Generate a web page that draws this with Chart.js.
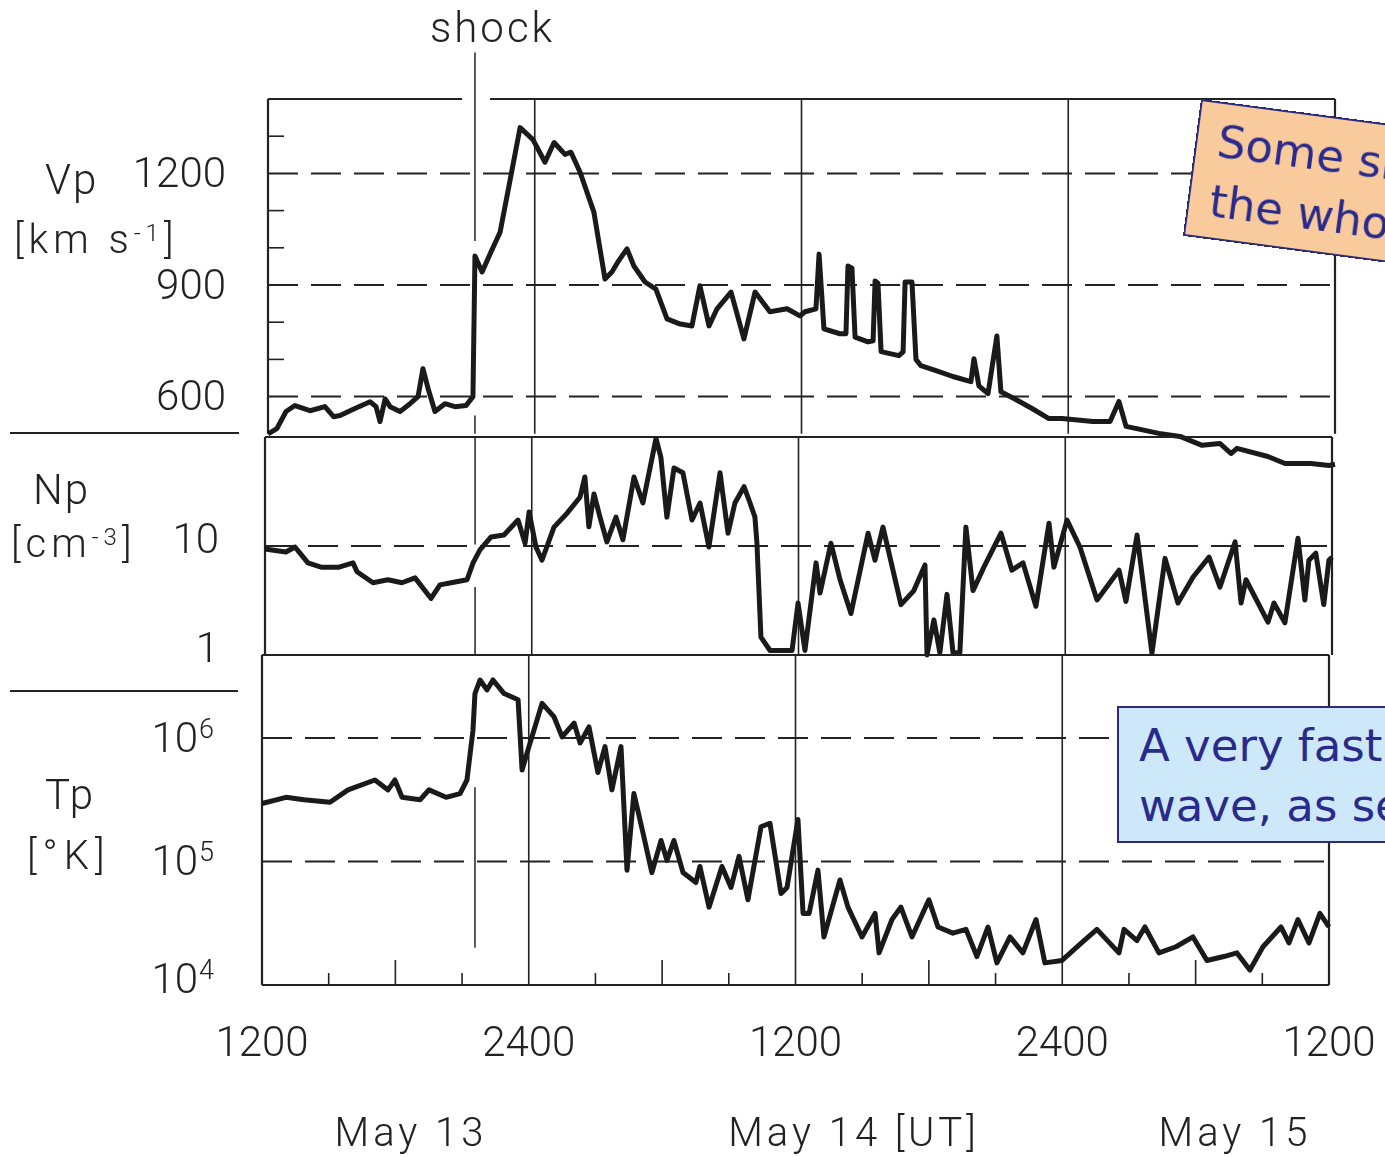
<!DOCTYPE html>
<html lang="en">
<head>
<meta charset="UTF-8">
<title>Solar wind shock, May 13-15</title>
<script src="https://cdn.jsdelivr.net/npm/chart.js@4"></script>
<style>
  body { margin: 0; background: #fff; }
  .page { position: relative; width: 1385px; height: 1157px; overflow: hidden; background: #fff;
          font-family: Roboto, "DejaVu Sans", sans-serif; font-weight: 300; color: #222; }
  .page canvas { position: absolute; left: 0; }
  .txt { position: absolute; white-space: nowrap; line-height: 1; }
  .txt sup { font-size: 0.6em; vertical-align: 0; position: relative; top: -0.5em; }
  .rule { position: absolute; height: 2px; background: #222; }
  .note { position: absolute; box-sizing: border-box; border: 2px solid #2b2b7d; color: #2a2a8c;
          font-family: "Comic Sans MS", "DejaVu Sans", sans-serif; font-weight: 400; font-size: 45px;
          line-height: 60px; padding: 8px 0 0 20px; white-space: nowrap; }
</style>
</head>
<body>
<div class="page">
  <canvas id="vpChart" width="1385" height="480" style="top:0"></canvas>
  <canvas id="npChart" width="1385" height="260" style="top:420px"></canvas>
  <canvas id="tpChart" width="1385" height="517" style="top:640px"></canvas>

  <div class="txt" style="left:430px;top:7px;font-size:42px;letter-spacing:3px">shock</div>
  <div class="txt" style="left:45px;top:159px;font-size:42px;letter-spacing:2px">Vp</div>
  <div class="txt" style="left:14px;top:220px;font-size:40px;letter-spacing:5px">[km s<sup>-1</sup>]</div>
  <div class="rule" style="left:10px;top:432px;width:229px"></div>
  <div class="txt" style="left:33px;top:469px;font-size:42px;letter-spacing:2px">Np</div>
  <div class="txt" style="left:11px;top:524px;font-size:40px;letter-spacing:5px">[cm<sup>-3</sup>]</div>
  <div class="rule" style="left:10px;top:690px;width:228px"></div>
  <div class="txt" style="left:45px;top:774px;font-size:42px;letter-spacing:2px">Tp</div>
  <div class="txt" style="left:27px;top:836px;font-size:40px;letter-spacing:6px">[°K]</div>

  <div class="txt" style="left:211px;width:400px;text-align:center;top:1113px;font-size:40px;letter-spacing:4px">May 13</div>
  <div class="txt" style="left:654px;width:400px;text-align:center;top:1113px;font-size:40px;letter-spacing:4px">May 14 [UT]</div>
  <div class="txt" style="left:1035px;width:400px;text-align:center;top:1113px;font-size:40px;letter-spacing:4px">May 15</div>

  <div class="note" style="left:1201px;top:99px;width:420px;height:138px;background:#f9cb9c;transform:rotate(7.5deg);transform-origin:0 0">Some shocks<br>the whole</div>
  <div class="note" style="left:1117px;top:706px;width:420px;height:137px;background:#cde8f8">A very fast shock<br>wave, as seen</div>
</div>

<script>
// hours after 12:00 UT on May 13
const vpHours = [0,0.40,0.81,1.21,1.89,2.56,2.95,3.24,3.91,4.59,4.86,5.04,5.27,5.49,5.94,6.39,6.75,6.97,7.20,7.51,7.96,8.41,8.91,9.22,
  9.31,9.63,10.03,10.44,10.84,11.34,11.92,12.46,12.87,13.36,13.63,14.04,14.66,15.16,15.47,15.74,16.15,16.46,16.96,17.45,
  17.95,18.49,19.07,19.43,19.84,20.20,20.83,21.41,21.91,22.58,23.35,23.93,24.16,24.65,24.79,25.01,25.73,26.00,26.09,26.27,
  26.41,26.99,27.22,27.31,27.44,27.58,28.38,28.57,28.66,28.97,29.15,29.37,30.05,30.81,31.62,31.76,31.98,32.39,32.79,32.97,
  33.56,34.37,35.13,35.72,37.11,37.88,38.28,38.60,40.08,41.03,42.02,42.82,43.32,43.59,44.98,45.75,46.92,47.73,48.00];
const vpSpeed = [500,514,560,576,562,573,546,549,568,586,573,533,594,573,560,581,600,675,622,560,581,573,576,600,
  978,935,989,1042,1166,1323,1291,1230,1283,1251,1257,1203,1096,916,935,962,997,951,908,889,
  809,796,790,898,790,836,881,755,881,828,836,817,828,836,983,782,769,769,951,945,
  760,747,750,911,905,721,710,720,908,908,700,683,670,654,640,702,629,608,763,613,
  595,568,541,541,533,533,587,520,501,493,469,474,447,461,439,420,420,415,418];

const npHours = [0,0.94,1.35,1.93,2.52,3.33,3.96,4.14,4.86,5.53,6.16,6.75,7.47,7.87,8.37,9.09,9.36,9.67,10.17,10.75,
  11.38,11.70,11.88,12.19,12.46,13.00,13.59,14.17,14.39,14.57,14.80,15.07,15.38,15.79,16.10,16.60,17.00,17.59,17.81,18.08,
  18.40,18.80,19.21,19.57,19.97,20.47,20.83,21.14,21.55,21.82,22.04,22.13,22.31,22.72,23.71,23.98,24.29,24.79,24.97,25.46,
  25.87,26.36,27.13,27.44,27.80,28.61,29.19,29.69,29.78,30.09,30.36,30.68,30.95,31.26,31.53,31.85,32.34,33.11,33.60,34.10,
  34.68,35.27,35.49,36.08,36.66,37.43,38.42,38.73,39.23,39.90,40.49,41.07,41.75,42.47,42.96,43.64,43.91,44.13,45.12,45.39,
  45.88,46.47,46.78,46.96,47.27,47.63,47.86,48.00];
const npDensity = [9.4,8.8,9.8,7.0,6.4,6.4,7.0,5.8,4.6,4.9,4.6,5.1,3.3,4.4,4.6,4.9,7.0,9.2,12.1,12.6,
  17.3,10.6,20.5,9.8,7.4,14.9,20,28,43,15,30,18.4,10.9,18.4,11.4,43,24.8,97,65,18.4,
  52,47,17.3,24.8,9.8,47,13.1,24.8,35,24.8,18.4,10.6,1.46,1.1,1.1,3.0,1.1,7,3.7,10.6,
  4.9,2.4,13.1,7.4,14.9,2.9,3.9,6.7,1.0,2.1,1.05,3.6,1.05,1.05,14.9,3.9,6.4,13.1,6.0,7.0,
  2.8,16.2,6.4,17.3,9.8,3.2,6.0,3.1,12.6,1.04,7.7,3.0,5.2,7.9,4.2,10.9,3.0,4.9,2.0,3.0,
  1.97,11.8,3.2,7.4,8.6,2.9,7.4,7.9];

const tpHours = [0,1.08,1.89,3.06,3.87,5.08,5.67,5.98,6.30,7.11,7.51,8.28,8.91,9.22,9.49,9.58,9.81,10.12,10.39,10.89,
  11.52,11.70,12.01,12.60,13.14,13.50,14.04,14.31,14.71,15.11,15.43,15.74,16.15,16.42,16.73,17.14,17.54,17.95,18.22,18.53,
  18.94,19.52,19.70,20.11,20.69,21.10,21.46,21.86,22.45,22.85,23.35,23.62,24.11,24.34,24.61,25.01,25.28,26.00,26.36,26.99,
  27.58,27.76,28.34,28.74,29.24,30.00,30.41,31.08,31.67,32.16,32.66,33.06,33.65,34.23,34.82,35.22,35.99,36.98,37.56,38.55,
  38.78,39.36,39.72,40.35,41.12,41.88,42.51,43.27,43.86,44.44,45.03,45.84,46.20,46.60,47.10,47.59,48.00];
const tpTemp = [2.95e5,3.31e5,3.16e5,3.02e5,3.80e5,4.57e5,3.80e5,4.57e5,3.31e5,3.16e5,3.80e5,3.31e5,3.55e5,4.57e5,1.15e6,2.29e6,2.95e6,2.45e6,2.95e6,2.29e6,
  2.04e6,5.50e5,8.51e5,1.91e6,1.48e6,1.02e6,1.32e6,9.12e5,1.23e6,5.25e5,8.51e5,3.80e5,8.51e5,8.51e4,3.55e5,1.70e5,8.13e4,1.48e5,1.02e5,1.48e5,
  8.13e4,6.76e4,9.12e4,4.27e4,9.12e4,6.17e4,1.10e5,4.90e4,1.91e5,2.04e5,5.50e4,6.17e4,2.19e5,3.80e4,3.80e4,8.51e4,2.45e4,7.08e4,4.27e4,2.45e4,
  3.80e4,1.82e4,3.39e4,4.27e4,2.45e4,4.90e4,2.95e4,2.63e4,2.82e4,1.70e4,2.95e4,1.51e4,2.45e4,1.82e4,3.39e4,1.51e4,1.58e4,2.29e4,2.82e4,1.82e4,
  2.82e4,2.29e4,2.95e4,1.82e4,2.04e4,2.45e4,1.58e4,1.70e4,1.82e4,1.32e4,2.04e4,2.95e4,2.19e4,3.39e4,2.19e4,3.80e4,2.95e4];

const clockHours = [0, 12, 24, 36, 48];
const clockLabels = ['1200', '2400', '1200', '2400', '1200'];
const vpLabels = [600, 900, 1200];
const npLabels = [1, 10];
const tpPowers = [4, 5, 6];

// frame, dashed levels, time grid, shock marker and labels for each panel
const panelSpecs = {
  vpChart: { top: 1400, bottom: 500, levels: [600, 900, 1200], topSpans: [[0, 8.73], [9.99, 48]],
             leftTicks: [700, 800, 1000, 1100, 1300], shockAt: 9.31, shock: [[1525, 1018], [549, 500]],
             labels: vpLabels.map(v => ({ v, text: String(v) })), labelGap: 42, labelShift: 3 },
  npChart: { top: 100, bottom: 1, levels: [10], topSpans: [[0, 48]],
             leftTicks: [], shockAt: 9.45, shock: [[100, 10.3], [4.2, 1]],
             labels: npLabels.map(v => ({ v, text: String(v) })), labelGap: 46, labelShift: -4 },
  tpChart: { top: 4.7e6, bottom: 1e4, levels: [1e5, 1e6], topSpans: [[0, 48]], bottomLine: true,
             leftTicks: [], shockAt: 9.58, shock: [[4.0e5, 2.0e4]], hourTicks: true,
             labels: tpPowers.map(p => ({ v: Math.pow(10, p), text: '10', exp: String(p), dy: p === 4 ? -6 : 0 })),
             labelGap: 48, labelShift: 0, clock: true }
};

function seg(ctx, x1, y1, x2, y2) {
  ctx.beginPath(); ctx.moveTo(x1, y1); ctx.lineTo(x2, y2); ctx.stroke();
}

const panelFrame = {
  id: 'panelFrame',
  beforeDatasetsDraw(chart) {
    const spec = panelSpecs[chart.canvas.id];
    const { ctx, scales: { x, y } } = chart;
    const left = x.getPixelForValue(0), right = x.getPixelForValue(48);
    const top = y.getPixelForValue(spec.top), bottom = y.getPixelForValue(spec.bottom);
    ctx.save();
    ctx.strokeStyle = '#222';

    ctx.lineWidth = 2;
    ctx.setLineDash([30, 13]);
    spec.levels.forEach(v => { const py = y.getPixelForValue(v); seg(ctx, left, py, right, py); });
    ctx.setLineDash([]);

    ctx.lineWidth = 1.6;
    [12, 24, 36].forEach(t => { const px = x.getPixelForValue(t); seg(ctx, px, top, px, bottom); });

    ctx.lineWidth = 2.2;
    seg(ctx, left, top, left, bottom);
    seg(ctx, right, top, right, bottom);
    spec.topSpans.forEach(([a, b]) => seg(ctx, x.getPixelForValue(a), top, x.getPixelForValue(b), top));
    if (spec.bottomLine) seg(ctx, left, bottom, right, bottom);

    ctx.lineWidth = 1.6;
    spec.leftTicks.forEach(v => { const py = y.getPixelForValue(v); seg(ctx, left, py, left + 16, py); });
    if (spec.hourTicks) {
      for (let t = 3; t < 48; t += 3) {
        if (t % 12 === 0) continue;
        const px = x.getPixelForValue(t);
        seg(ctx, px, bottom, px, bottom - (t % 6 === 0 ? 25 : 12));
      }
    }

    ctx.lineWidth = 1.5;
    const sx = x.getPixelForValue(spec.shockAt);
    spec.shock.forEach(([a, b]) => seg(ctx, sx, y.getPixelForValue(a), sx, y.getPixelForValue(b)));

    // axis labels
    ctx.fillStyle = '#222';
    ctx.textBaseline = 'middle';
    ctx.textAlign = 'right';
    const lx = left - spec.labelGap;
    spec.labels.forEach(l => {
      const py = y.getPixelForValue(l.v) + spec.labelShift + (l.dy || 0);
      if (l.exp) {
        ctx.font = '300 27px Roboto';
        const ew = ctx.measureText(l.exp).width;
        ctx.fillText(l.exp, lx, py - 7);
        ctx.font = '300 42px Roboto';
        ctx.fillText(l.text, lx - ew - 1, py + 3);
      } else {
        ctx.font = '300 42px Roboto';
        ctx.fillText(l.text, lx, py);
      }
    });
    if (spec.clock) {
      ctx.textAlign = 'center';
      ctx.font = '300 42px Roboto';
      clockHours.forEach((t, i) => ctx.fillText(clockLabels[i], x.getPixelForValue(t), bottom + 60));
    }
    ctx.restore();
  }
};

function makePanel(id, hours, values, yScale, padding) {
  return new Chart(document.getElementById(id), {
    type: 'line',
    data: {
      datasets: [{
        data: hours.map((t, i) => ({ x: t, y: values[i] })),
        borderColor: '#1a1a1a',
        borderWidth: 5,
        borderJoinStyle: 'round',
        pointRadius: 0,
        tension: 0,
        clip: 6
      }]
    },
    options: {
      responsive: false,
      animation: false,
      events: [],
      layout: { padding },
      plugins: { legend: { display: false }, tooltip: { enabled: false } },
      scales: {
        x: { type: 'linear', min: 0, max: 48, display: false },
        y: Object.assign({ display: false }, yScale)
      }
    },
    plugins: [panelFrame]
  });
}

makePanel('vpChart', vpHours, vpSpeed, { type: 'linear', min: 400, max: 1400 },
  { top: 99, bottom: 9, left: 268, right: 50 });
makePanel('npChart', npHours, npDensity, { type: 'logarithmic', min: 1, max: 100 },
  { top: 17, bottom: 25, left: 265, right: 53 });
makePanel('tpChart', tpHours, tpTemp, { type: 'logarithmic', min: 1e4, max: 4.7e6 },
  { top: 15, bottom: 172, left: 262, right: 56 });
</script>
</body>
</html>
